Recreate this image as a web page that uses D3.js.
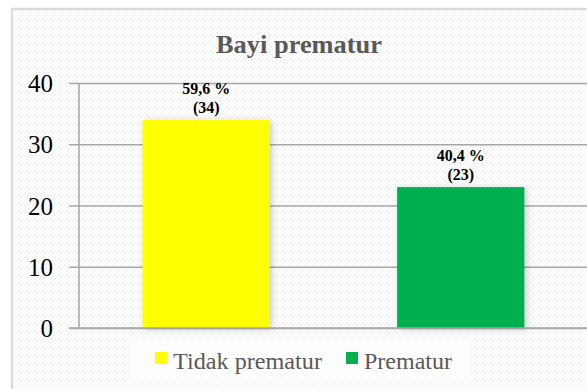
<!DOCTYPE html>
<html><head><meta charset="utf-8">
<script src="https://cdn.jsdelivr.net/npm/d3@7"></script>
<style>html,body{margin:0;padding:0;background:#fff;}svg{display:block;}</style>
</head><body>
<svg id="c" width="587" height="389"></svg>
<script>
const categories = ["Tidak prematur", "Prematur"];
const values = [34, 23];
const percentLabels = ["59,6 %", "40,4 %"];
const colors = ["#ffff00", "#00b050"];
const yTicks = [0, 10, 20, 30, 40];
const title = "Bayi prematur";

const svg = d3.select("#c");
const W = 587, H = 389;
const serif = "'Liberation Serif','Times New Roman',serif";

const defs = svg.append("defs");
const pat = defs.append("pattern").attr("id","hatch").attr("patternUnits","userSpaceOnUse")
  .attr("width",4).attr("height",4);
pat.append("rect").attr("width",4).attr("height",4).attr("fill","#ffffff");
pat.append("path").attr("d","M-1,-1 L5,5 M-1,3 L1,5 M3,-1 L5,1").attr("stroke","#f0f0f0").attr("stroke-width",1);
const f = defs.append("filter").attr("id","shadow").attr("x","-20%").attr("y","-20%").attr("width","150%").attr("height","150%");
f.append("feDropShadow").attr("dx",2).attr("dy",1).attr("stdDeviation",3).attr("flood-color","#000").attr("flood-opacity",0.2);

// frame
svg.append("rect").attr("x",12).attr("y",9).attr("width",W).attr("height",H)
  .attr("fill","url(#hatch)").attr("stroke","#dcdcdc").attr("stroke-width",2.5);

const m = {left:79, right:588, top:83, bottom:328};
const x = d3.scaleBand().domain(categories).range([m.left, m.right]).paddingInner(0.5).paddingOuter(0.25);
const y = d3.scaleLinear().domain([0,40]).range([m.bottom, m.top]);

// title
svg.append("text").attr("x",299).attr("y",53).attr("text-anchor","middle")
  .attr("font-family",serif).attr("font-size",25).attr("font-weight","bold").attr("fill","#595959")
  .attr("textLength",166).attr("lengthAdjust","spacingAndGlyphs")
  .text(title);

// gridlines
const yAxis = d3.axisLeft(y).tickValues(yTicks).tickSize(-(m.right-m.left)).tickPadding(26).tickSizeOuter(0);
const gA = svg.append("g").attr("transform",`translate(${m.left},0)`).call(yAxis);
gA.select(".domain").remove();
gA.selectAll(".tick line").attr("stroke","#a6a6a6").attr("stroke-width",1.5).attr("x1",-10);
gA.selectAll(".tick text").attr("font-family",serif).attr("font-size",25).attr("fill","#000").attr("dy","0.34em");

// bars
svg.append("g").selectAll("rect").data(values).join("rect")
  .attr("x",(d,i)=>x(categories[i])).attr("width",x.bandwidth())
  .attr("y",d=>y(d)).attr("height",d=>y(0)-y(d))
  .attr("fill",(d,i)=>colors[i]).attr("filter","url(#shadow)");

// y axis line
svg.append("line").attr("x1",m.left).attr("x2",m.left).attr("y1",m.top).attr("y2",m.bottom)
  .attr("stroke","#a6a6a6").attr("stroke-width",1.5);
// zero line over bars
svg.append("line").attr("x1",m.left-10).attr("x2",m.right).attr("y1",y(0)).attr("y2",y(0))
  .attr("stroke","#a6a6a6").attr("stroke-width",1.5);

// data labels
const lab = svg.append("g").selectAll("text").data(values).join("text")
  .attr("text-anchor","middle").attr("font-family",serif).attr("font-size",16).attr("font-weight","bold").attr("fill","#000");
lab.append("tspan").attr("x",(d,i)=>x(categories[i])+x.bandwidth()/2).attr("y",d=>y(d)-26).text((d,i)=>percentLabels[i]);
lab.append("tspan").attr("x",(d,i)=>x(categories[i])+x.bandwidth()/2).attr("y",d=>y(d)-7).text(d=>`(${d})`);

// legend
svg.append("rect").attr("x",130).attr("y",338).attr("width",340).attr("height",41).attr("fill","#fdfdfd");
const legX = [155, 346];
const legW = [149, 88];
const lg = svg.append("g").selectAll("g").data(categories).join("g")
  .attr("transform",(d,i)=>`translate(${legX[i]},352)`);
lg.append("rect").attr("width",12).attr("height",12).attr("fill",(d,i)=>colors[i]);
lg.append("text").attr("x",18).attr("y",17).attr("font-family",serif).attr("font-size",23).attr("fill","#595959")
  .attr("textLength",(d,i)=>legW[i]).attr("lengthAdjust","spacingAndGlyphs").text(d=>d);
</script>
</body></html>
